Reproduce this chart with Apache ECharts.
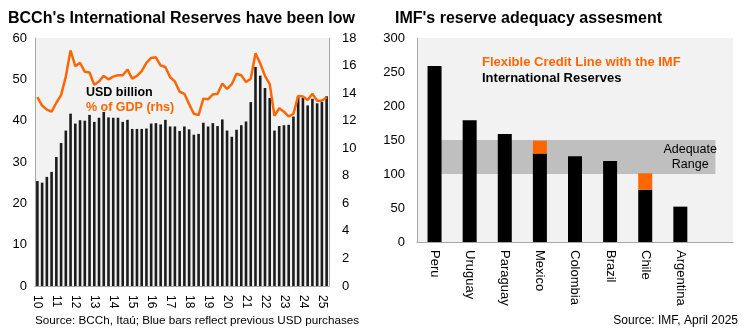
<!DOCTYPE html>
<html><head><meta charset="utf-8">
<script src="https://cdn.jsdelivr.net/npm/echarts@6/dist/echarts.min.js"></script>
<style>html,body{margin:0;padding:0;background:#fff}#c{width:750px;height:334px}</style>
</head><body><div id="c"></div>
<script>
// ---- Left chart data (quarterly, 2010Q1 .. 2025Q2) ----
const yearLabels = ['10','11','12','13','14','15','16','17','18','19','20','21','22','23','24','25'];
const reservesUSD = [
  25.4,25.0,26.4,27.6, 31.2,34.6,37.6,41.7, 39.3,40.1,40.0,41.4, 39.7,40.7,42.1,40.8,
  40.7,40.7,39.7,40.2, 38.0,38.0,38.0,38.1, 39.3,39.4,39.1,40.2, 38.6,38.6,37.5,38.6,
  37.9,36.6,36.8,39.5, 38.6,39.4,38.7,40.3, 37.6,36.1,37.8,38.9, 39.8,44.5,53.0,50.9,
  47.9,45.5,37.6,38.7, 38.9,39.0,41.0,45.9, 45.5,43.7,45.3,44.2, 44.5,45.9
];
const reservesGDP = [
  13.7,13.1,12.8,12.65, 13.3,13.85,15.2,17.1, 15.95,16.2,15.55,15.5, 14.6,14.85,15.25,15.0,
  15.2,15.3,15.3,15.7, 15.05,15.25,15.6,16.2, 16.55,16.6,16.0,15.9, 15.15,14.85,14.1,13.95,
  13.2,12.5,12.4,13.6, 13.55,13.9,13.95,14.7, 14.3,14.65,15.4,15.3, 14.8,15.05,16.9,16.15,
  15.25,14.65,12.35,12.9, 12.65,12.3,12.5,13.8, 13.75,13.5,13.95,13.45, 13.45,13.7
];
const quarterNames = ['Q1','Q2','Q3','Q4'];

// ---- Right chart data ----
const countries = ['Peru','Uruguay','Paraguay','Mexico','Colombia','Brazil','Chile','Argentina',''];
const intlReserves = [259,179,159,130,126,119,77,52,null];
const flexCreditLine = [null,null,null,19,null,null,24,null,null];
const adequateRange = [100,150];

const quarters = [];
yearLabels.forEach(y => quarterNames.forEach(q => quarters.push(y + q)));
const categoriesLeft = quarters.slice(0, reservesUSD.length);

const ORANGE = '#ff6600';
const AXIS = '#a6a6a6';
const FONT = 'Arial, "Liberation Sans", sans-serif';

const chart = echarts.init(document.getElementById('c'), null, {renderer:'canvas'});
chart.setOption({
  animation: false,
  backgroundColor: '#ffffff',
  textStyle: {fontFamily: FONT},
  title: [
    {text: "BCCh's International Reserves have been low", left: 3, top: 6,
     textStyle: {fontSize: 16, fontWeight: 'bold', color: '#000', fontFamily: FONT}},
    {text: "IMF's reserve adequacy assesment", left: 390, top: 6,
     textStyle: {fontSize: 16, fontWeight: 'bold', color: '#000', fontFamily: FONT}}
  ],
  grid: [
    {left: 35, right: 421, top: 38, bottom: 48, show: true, backgroundColor: '#f2f2f2', borderWidth: 0},
    {left: 417, right: 17, top: 38, bottom: 92, show: true, backgroundColor: '#f2f2f2', borderWidth: 0}
  ],
  xAxis: [
    {type: 'category', gridIndex: 0, data: categoriesLeft, boundaryGap: true,
     axisLine: {lineStyle: {color: AXIS}}, axisTick: {show: false},
     axisLabel: {interval: 3, rotate: -90, margin: 9, color: '#000', fontSize: 12, fontFamily: FONT,
       formatter: v => v.slice(0, 2)}},
    {type: 'category', gridIndex: 1, data: countries, boundaryGap: true,
     axisLine: {lineStyle: {color: AXIS}}, axisTick: {show: false},
     axisLabel: {interval: 0, rotate: -90, margin: 8, color: '#000', fontSize: 13, fontFamily: FONT}},
    // hidden index axis: integer i = centre of country i
    {type: 'value', gridIndex: 1, min: -0.5, max: countries.length - 0.5, show: false}
  ],
  yAxis: [
    {type: 'value', gridIndex: 0, min: 0, max: 60, interval: 10,
     axisLine: {show: true, onZero: false, lineStyle: {color: AXIS}}, axisTick: {show: false}, splitLine: {show: false},
     axisLabel: {margin: 8, color: '#000', fontSize: 13, fontFamily: FONT}},
    {type: 'value', gridIndex: 0, min: 0, max: 18, interval: 2, position: 'right',
     axisLine: {show: true, onZero: false, lineStyle: {color: AXIS}}, axisTick: {show: false}, splitLine: {show: false},
     axisLabel: {margin: 13, color: '#000', fontSize: 13, fontFamily: FONT}},
    {type: 'value', gridIndex: 1, min: 0, max: 300, interval: 50, position: 'left',
     axisLine: {show: true, onZero: false, lineStyle: {color: AXIS}}, axisTick: {show: false}, splitLine: {show: false},
     axisLabel: {margin: 12, color: '#000', fontSize: 13, fontFamily: FONT}}
  ],
  series: [
    {name: 'USD billion', type: 'bar', xAxisIndex: 0, yAxisIndex: 0, data: reservesUSD,
     barWidth: 2.6, itemStyle: {color: '#1c1c1c'}},
    {name: '% of GDP (rhs)', type: 'line', xAxisIndex: 0, yAxisIndex: 1, data: reservesGDP,
     symbol: 'none', lineStyle: {color: ORANGE, width: 2.5}, z: 3},
    {name: 'Adequate Range', type: 'line', xAxisIndex: 2, yAxisIndex: 2, data: [], z: 1,
     markArea: {silent: true, itemStyle: {color: '#bfbfbf'},
       label: {show: true, position: ['91%', '50%'], align: 'center', verticalAlign: 'middle',
         color: '#000', fontSize: 12.5, lineHeight: 14.5, fontFamily: FONT},
       data: [[{name: 'Adequate\nRange', xAxis: 0, yAxis: adequateRange[1]},
               {xAxis: countries.length - 1, yAxis: adequateRange[0]}]]}},
    {name: 'International Reserves', type: 'bar', xAxisIndex: 1, yAxisIndex: 2, stack: 'imf',
     data: intlReserves, barWidth: 14, itemStyle: {color: '#000'}, z: 3},
    {name: 'Flexible Credit Line with the IMF', type: 'bar', xAxisIndex: 1, yAxisIndex: 2, stack: 'imf',
     data: flexCreditLine, barWidth: 14, itemStyle: {color: ORANGE}, z: 3}
  ],
  graphic: [
    {type: 'text', left: 86, top: 86, style: {text: 'USD billion', fill: '#000', font: 'bold 12.5px ' + FONT}},
    {type: 'text', left: 86, top: 101, style: {text: '% of GDP (rhs)', fill: ORANGE, font: 'bold 12.5px ' + FONT}},
    {type: 'text', left: 482, top: 56, style: {text: 'Flexible Credit Line with the IMF', fill: ORANGE, font: 'bold 13px ' + FONT}},
    {type: 'text', left: 482, top: 72, style: {text: 'International Reserves', fill: '#000', font: 'bold 13px ' + FONT}},
    {type: 'text', left: 35, top: 315, style: {text: 'Source: BCCh, Itaú; Blue bars reflect previous USD purchases', fill: '#000', font: '11.7px ' + FONT}},
    {type: 'text', right: 12, top: 315, style: {text: 'Source: IMF, April 2025', fill: '#000', font: '12px ' + FONT}}
  ]
});
</script></body></html>
